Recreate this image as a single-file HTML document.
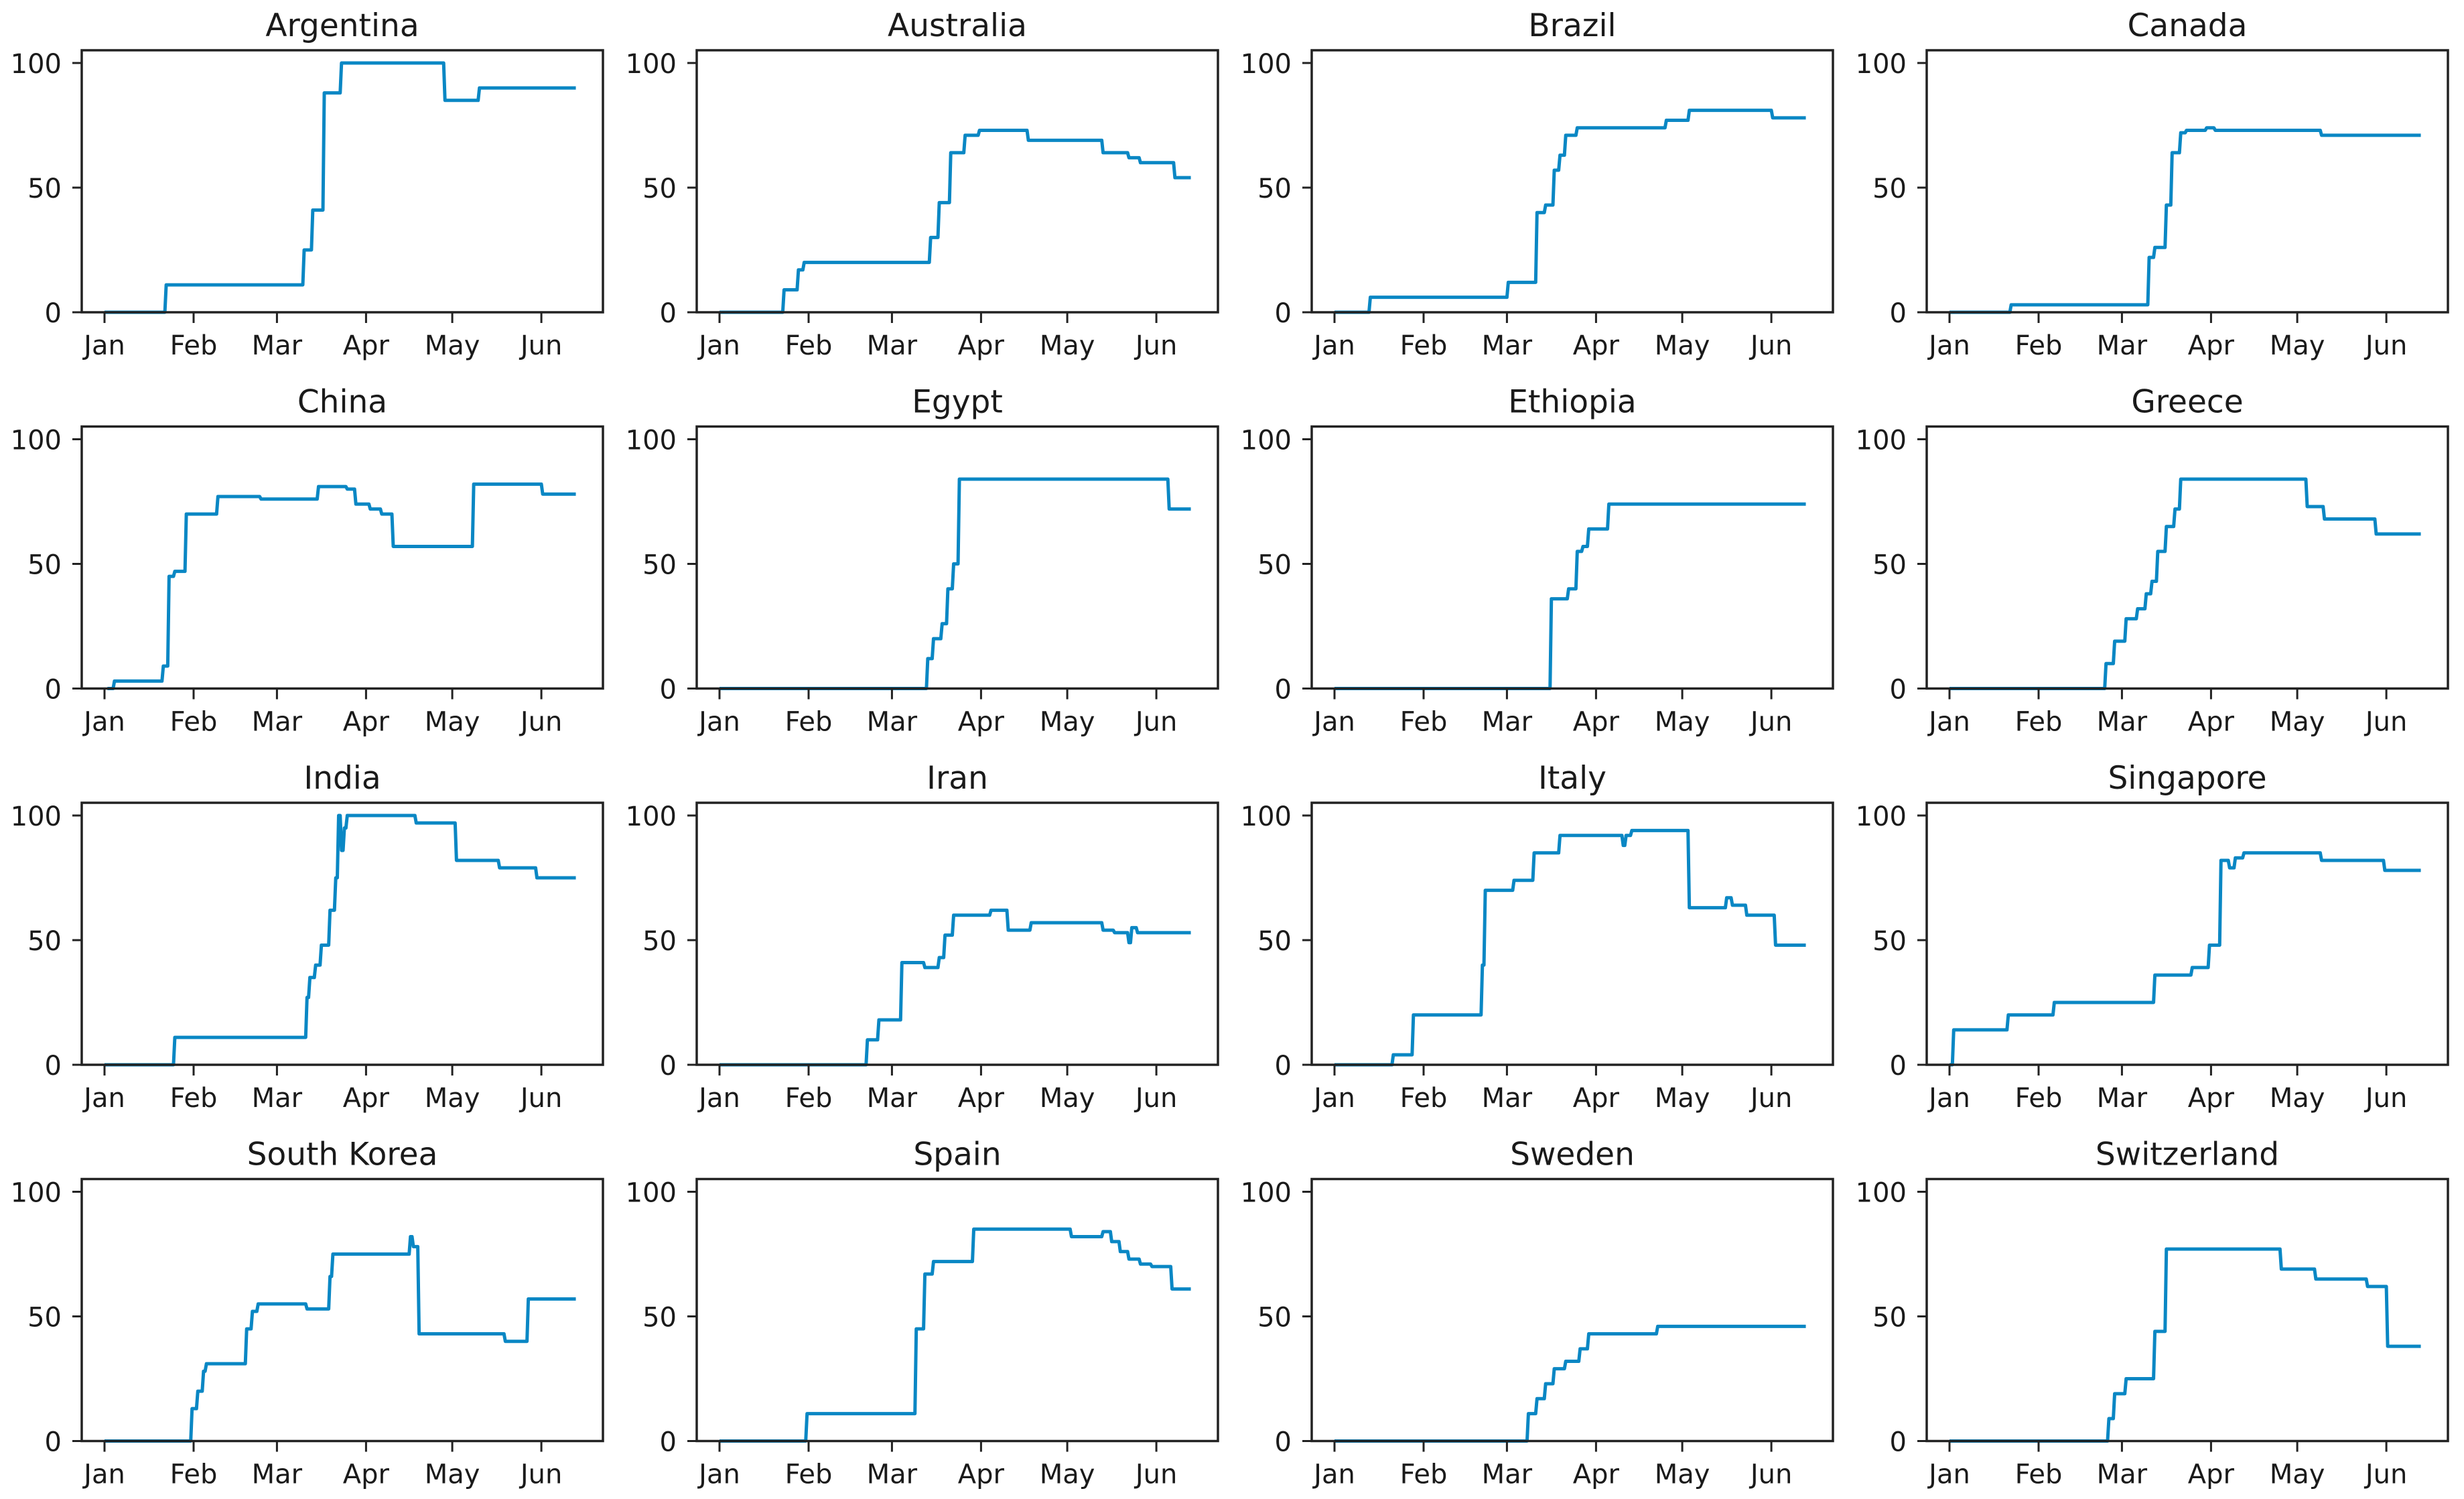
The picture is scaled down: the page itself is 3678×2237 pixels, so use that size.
<!DOCTYPE html>
<html><head><meta charset="utf-8"><style>
html,body{margin:0;padding:0;background:#fff;}
svg{display:block;}
text{font-family:"DejaVu Sans","Liberation Sans",sans-serif;fill:#1a1a1a;}
</style></head><body>
<svg id="chart" width="3678" height="2237" viewBox="0 0 3678 2237" xmlns="http://www.w3.org/2000/svg"></svg>
<script>
const countries = ["Argentina","Australia","Brazil","Canada","China","Egypt","Ethiopia","Greece","India","Iran","Italy","Singapore","South Korea","Spain","Sweden","Switzerland"];
const monthLabels = ["Jan","Feb","Mar","Apr","May","Jun"];
const monthDays = [0,31,60,91,121,152];
const yTicks = [0,50,100];
const endDay = 164;
const days_Argentina = [0,21,69,72,76,78,82,118,130];
const vals_Argentina = [0,11,25,41,88,88,100,85,90];
const days_Australia = [0,22,27,29,73,76,80,85,90,107,133,142,146,158];
const vals_Australia = [0,9,17,20,30,44,64,71,73,69,64,62,60,54];
const days_Brazil = [0,12,60,70,73,76,78,80,84,115,123,152];
const vals_Brazil = [0,6,12,40,43,57,63,71,74,77,81,78];
const days_Canada = [0,21,69,71,75,77,80,82,89,92,129];
const vals_Canada = [0,3,22,26,43,64,72,73,74,73,71];
const days_China = [1,3,13,20,22,24,28,39,54,74,84,87,92,96,100,128,152];
const vals_China = [0,3,3,9,45,47,70,77,76,81,80,74,72,70,57,82,78];
const days_Egypt = [0,72,74,77,79,81,83,156];
const vals_Egypt = [0,12,20,26,40,50,84,72];
const days_Ethiopia = [0,75,81,84,86,88,95];
const vals_Ethiopia = [0,36,40,55,57,64,74];
const days_Greece = [0,54,57,61,65,68,70,72,75,78,80,124,130,148];
const vals_Greece = [0,10,19,28,32,38,43,55,65,72,84,73,68,62];
const days_India = [0,24,61,70,71,73,75,78,80,81,82,83,84,108,122,137,150];
const vals_India = [0,11,11,27,35,40,48,62,75,100,86,95,100,97,82,79,75];
const days_Iran = [0,49,51,55,63,71,76,78,81,85,94,100,108,133,137,142,143,145];
const vals_Iran = [0,0,10,18,41,39,43,52,60,60,62,54,57,54,53,49,55,53];
const days_Italy = [0,20,27,50,51,52,62,69,78,100,101,103,123,135,136,138,143,153];
const vals_Italy = [0,4,20,20,40,70,74,85,92,88,92,94,63,63,67,64,60,48];
const days_Singapore = [0,1,20,36,71,84,90,94,97,99,102,129,151];
const vals_Singapore = [0,14,20,25,36,39,48,82,79,83,85,82,78];
const days_SouthKorea = [0,30,32,34,35,49,51,53,70,78,79,95,106,107,109,139,147];
const vals_SouthKorea = [0,13,20,28,31,45,52,55,53,66,75,75,82,78,43,40,57];
const days_Spain = [0,30,67,68,71,74,88,122,133,136,139,142,146,150,157];
const vals_Spain = [0,11,11,45,67,72,85,82,84,80,76,73,71,70,61];
const days_Sweden = [0,67,70,73,76,80,85,88,112];
const vals_Sweden = [0,11,17,23,29,32,37,43,46];
const days_Switzerland = [0,54,55,57,61,70,71,75,115,127,145,151,152];
const vals_Switzerland = [0,0,9,19,25,25,44,77,69,65,62,62,38];
const seriesDays = [days_Argentina,days_Australia,days_Brazil,days_Canada,days_China,days_Egypt,days_Ethiopia,days_Greece,days_India,days_Iran,days_Italy,days_Singapore,days_SouthKorea,days_Spain,days_Sweden,days_Switzerland];
const seriesVals = [vals_Argentina,vals_Australia,vals_Brazil,vals_Canada,vals_China,vals_Egypt,vals_Ethiopia,vals_Greece,vals_India,vals_Iran,vals_Italy,vals_Singapore,vals_SouthKorea,vals_Spain,vals_Sweden,vals_Switzerland];

const NS="http://www.w3.org/2000/svg";
const svg=document.getElementById('chart');
function mk(tag,attrs,parent){const e=document.createElementNS(NS,tag);for(const k in attrs)e.setAttribute(k,attrs[k]);parent.appendChild(e);return e;}
const W=778,H=391;
countries.forEach((name,i)=>{
  const c=i%4,r=Math.floor(i/4);
  const L=122+c*918, T=75+r*561.5, B=T+H;
  const xs=d=>L+34+d*4.29;
  const ys=v=>B-v*3.72;
  const slug=name.toLowerCase().replace(/ /g,'-');
  const g=mk('g',{},svg);
  
  
  const t=mk('text',{x:L+W/2,y:T-21,'text-anchor':'middle','font-size':47},g);
  t.textContent=name;
  
  
  const dd=seriesDays[i], vv=seriesVals[i];
  let p='M'+xs(dd[0])+' '+ys(vv[0]);
  for(let k=1;k<dd.length;k++){p+=' L'+xs(dd[k])+' '+ys(vv[k-1])+' L'+(xs(dd[k])+2)+' '+ys(vv[k]);}
  p+=' L'+xs(endDay)+' '+ys(vv[vv.length-1]);
  const ln=mk('path',{d:p,fill:'none',stroke:'#0a87c4','stroke-width':5,'stroke-linejoin':'round'},g);
  
  
  const fr=mk('rect',{x:L,y:T,width:W,height:H,fill:'none',stroke:'#222','stroke-width':3.5},g);
  
  
  monthDays.forEach((d,j)=>{
    mk('line',{x1:xs(d),x2:xs(d),y1:B,y2:B+16,stroke:'#222','stroke-width':3},g);
    const tl=mk('text',{x:xs(d),y:B+63,'text-anchor':'middle','font-size':40},g);
    tl.textContent=monthLabels[j];
    
    
  });
  yTicks.forEach(v=>{
    mk('line',{x1:L-14,x2:L,y1:ys(v),y2:ys(v),stroke:'#222','stroke-width':3},g);
    const tl=mk('text',{x:L-30,y:ys(v)+15,'text-anchor':'end','font-size':40},g);
    tl.textContent=v;
    
    
  });
});
</script>
</body></html>
